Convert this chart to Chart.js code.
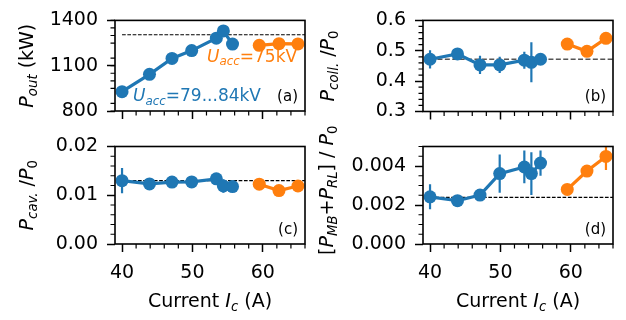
<!DOCTYPE html>
<html lang="en">
<head>
<meta charset="UTF-8">
<title>Power balance vs. current</title>
<style>
    body { margin: 0; background: #fff; }
    #wrap { position: relative; width: 626px; height: 320px; }
    #wrap canvas { position: absolute; left: 0; top: 0; }
</style>
</head>
<body>
<div id="wrap">
    <canvas id="chartA" width="626" height="320"></canvas>
    <canvas id="chartB" width="626" height="320"></canvas>
    <canvas id="chartC" width="626" height="320"></canvas>
    <canvas id="chartD" width="626" height="320"></canvas>
</div>

<script src="https://cdn.jsdelivr.net/npm/chart.js"></script>
<script>
// ---- data ----
const blueCurrent = [40, 43.9, 47.1, 49.9, 53.4, 54.4, 55.7];
const orangeCurrent = [59.5, 62.3, 65];

const poutBlue = [928, 1043, 1148, 1200, 1282, 1330, 1243];
const poutBlueErr = [8, 36, 8, 8, 8, 8, 8];
const poutOrange = [1235, 1246, 1244];
const poutOrangeErr = [8, 8, 8];
const poutRef = 1305;

const collBlue = [0.472, 0.4895, 0.4535, 0.4535, 0.469, 0.462, 0.472];
const collBlueErr = [0.03, 0.008, 0.03, 0.027, 0.028, 0.066, 0.01];
const collOrange = [0.522, 0.498, 0.541];
const collOrangeErr = [0.015, 0.008, 0.015];
const collRef = 0.472;

const cavBlue = [0.0130, 0.01233, 0.0127, 0.01274, 0.01336, 0.0119, 0.01178];
const cavBlueErr = [0.0026, 0.0003, 0.0003, 0.0003, 0.0003, 0.0014, 0.0003];
const cavOrange = [0.01227, 0.01096, 0.0119];
const cavOrangeErr = [0.0003, 0.0003, 0.0003];
const cavRef = 0.0130;

const lossBlue = [0.00242, 0.00222, 0.00251, 0.00361, 0.00395, 0.00361, 0.00415];
const lossBlueErr = [0.00064, 0.0001, 0.0001, 0.00098, 0.00084, 0.0011, 0.00065];
const lossOrange = [0.0028, 0.00374, 0.00449];
const lossOrangeErr = [0.0001, 0.0001, 0.0007];
const lossRef = 0.00239;

const xTicks = [40, 50, 60];

const BLUE = '#1f77b4';
const ORANGE = '#ff7f0e';
const FONT = "'DejaVu Sans', sans-serif";
const TICK_SIZE = 19;

// text with italic / subscript pieces, drawn at a baseline point
function drawRich(ctx, parts, x, y, size, color, align, angle) {
    ctx.save();
    ctx.translate(x, y);
    if (angle) ctx.rotate(angle);
    ctx.fillStyle = color;
    ctx.textBaseline = 'alphabetic';
    ctx.textAlign = 'left';
    const fontOf = p => (p.i ? 'italic ' : '') + (p.sub ? size * 0.7 : size) + 'px ' + FONT;
    let total = 0;
    parts.forEach(p => { ctx.font = fontOf(p); total += ctx.measureText(p.t).width; });
    let cx = align === 'center' ? -total / 2 : (align === 'right' ? -total : 0);
    parts.forEach(p => {
        ctx.font = fontOf(p);
        ctx.fillText(p.t, cx, p.sub ? size * 0.22 : 0);
        cx += ctx.measureText(p.t).width;
    });
    ctx.restore();
}

const xLabel = [{t: 'Current '}, {t: 'I', i: true}, {t: 'c', i: true, sub: true}, {t: ' (A)'}];

function panelPlugin(cfg) {
    return {
        id: 'panel',
        beforeDatasetsDraw(chart) {
            const ctx = chart.ctx, a = chart.chartArea;
            const xs = chart.scales.x, ys = chart.scales.y;
            ctx.save();
            ctx.beginPath();
            ctx.rect(a.left, a.top, a.width, a.height);
            ctx.clip();
            ctx.lineWidth = 2.2;
            cfg.errors.forEach(e => {
                ctx.strokeStyle = e.color;
                e.x.forEach((xv, i) => {
                    const px = xs.getPixelForValue(xv);
                    ctx.beginPath();
                    ctx.moveTo(px, ys.getPixelForValue(e.y[i] - e.err[i]));
                    ctx.lineTo(px, ys.getPixelForValue(e.y[i] + e.err[i]));
                    ctx.stroke();
                });
            });
            ctx.restore();
        },
        afterDraw(chart) {
            const ctx = chart.ctx, a = chart.chartArea;
            const xs = chart.scales.x, ys = chart.scales.y;
            ctx.save();
            // minor ticks (outward)
            ctx.strokeStyle = '#000';
            ctx.lineWidth = 1.2;
            const minor = (scale, step, major, draw) => {
                const n0 = Math.ceil(scale.min / step - 1e-6), n1 = Math.floor(scale.max / step + 1e-6);
                for (let n = n0; n <= n1; n++) {
                    const v = n * step;
                    const r = v / major;
                    if (Math.abs(r - Math.round(r)) < 1e-6) continue;
                    draw(scale.getPixelForValue(v));
                }
            };
            ctx.beginPath();
            minor(xs, cfg.xMinor, 10, p => { ctx.moveTo(p, a.bottom); ctx.lineTo(p, a.bottom + 4.5); });
            minor(ys, cfg.yMinor, cfg.yStep, p => { ctx.moveTo(a.left, p); ctx.lineTo(a.left - 4.5, p); });
            ctx.stroke();
            // frame
            ctx.lineWidth = 1.6;
            ctx.strokeRect(a.left, a.top, a.width, a.height);
            ctx.restore();

            drawRich(ctx, cfg.yLabel, cfg.yLabelX, (a.top + a.bottom) / 2 + cfg.yLabelShift, TICK_SIZE, '#000', 'center', -Math.PI / 2);
            if (cfg.showX) drawRich(ctx, xLabel, (a.left + a.right) / 2, 306.5, TICK_SIZE, '#000', 'center', 0);

            ctx.save();
            ctx.font = '15px ' + FONT;
            ctx.fillStyle = '#000';
            ctx.textAlign = 'right';
            ctx.textBaseline = 'middle';
            ctx.fillText(cfg.tag, a.right - 7, a.bottom - 14);
            ctx.restore();

            (cfg.notes || []).forEach(n => drawRich(ctx, n.parts, n.x, n.y, 17, n.color, 'left', 0));
        }
    };
}

function pairs(xs, ys) {
    return xs.map((x, i) => ({x: x, y: ys[i]}));
}

function makePanel(id, cfg) {
    const L = cfg.area[0], T = cfg.area[1], R = cfg.area[2], B = cfg.area[3];
    const YW = 100, XH = 60;
    const tickFont = {family: FONT, size: TICK_SIZE};
    new Chart(document.getElementById(id), {
        type: 'line',
        data: {
            datasets: [
                {data: pairs(blueCurrent, cfg.blue), borderColor: BLUE, backgroundColor: BLUE,
                 borderWidth: 3.2, pointRadius: 6.5, pointBorderWidth: 0, tension: 0},
                {data: pairs(orangeCurrent, cfg.orange), borderColor: ORANGE, backgroundColor: ORANGE,
                 borderWidth: 3.2, pointRadius: 6.5, pointBorderWidth: 0, tension: 0},
                {data: [{x: 40, y: cfg.ref}, {x: 66, y: cfg.ref}], borderColor: cfg.refColor,
                 borderWidth: cfg.refWidth, borderDash: cfg.refDash, pointRadius: 0}
            ]
        },
        options: {
            responsive: false,
            animation: false,
            events: [],
            layout: {padding: {left: L - YW, top: T, right: 626 - R, bottom: 320 - B - XH}},
            plugins: {legend: {display: false}, tooltip: {enabled: false}},
            scales: {
                x: {
                    type: 'linear', min: 39, max: 66,
                    afterFit: s => { s.height = XH; },
                    afterBuildTicks: s => { s.ticks = xTicks.map(v => ({value: v})); },
                    ticks: {display: cfg.showX, font: tickFont, color: '#000', padding: 10, maxRotation: 0},
                    grid: {drawOnChartArea: false, tickLength: 8, tickWidth: 1.5, tickColor: '#000'},
                    border: {display: false}
                },
                y: {
                    type: 'linear', min: cfg.yMin, max: cfg.yMax,
                    afterFit: s => { s.width = YW; },
                    afterBuildTicks: s => { s.ticks = cfg.yTicks.map(v => ({value: v})); },
                    ticks: {font: tickFont, color: '#000', padding: 9,
                            callback: v => v.toFixed(cfg.yDigits)},
                    grid: {drawOnChartArea: false, tickLength: 8, tickWidth: 1.5, tickColor: '#000'},
                    border: {display: false}
                }
            }
        },
        plugins: [panelPlugin(cfg)]
    });
}

const blackDash = [3.7, 1.6];

makePanel('chartA', {
    area: [115, 14, 305, 111],
    blue: poutBlue, orange: poutOrange, ref: poutRef,
    refColor: '#000', refWidth: 1.1, refDash: blackDash,
    errors: [{x: blueCurrent, y: poutBlue, err: poutBlueErr, color: BLUE},
             {x: orangeCurrent, y: poutOrange, err: poutOrangeErr, color: ORANGE}],
    yMin: 800, yMax: 1400, yTicks: [800, 1100, 1400], yStep: 300, yMinor: 50, yDigits: 0,
    xMinor: 2, showX: false, tag: '(a)',
    yLabel: [{t: 'P', i: true}, {t: 'out', i: true, sub: true}, {t: ' (kW)'}],
    yLabelX: 33, yLabelShift: 0,
    notes: [
        {parts: [{t: 'U', i: true}, {t: 'acc', i: true, sub: true}, {t: '=79...84kV'}], x: 133, y: 101, color: BLUE},
        {parts: [{t: 'U', i: true}, {t: 'acc', i: true, sub: true}, {t: '=75kV'}], x: 207, y: 61.5, color: ORANGE}
    ]
});

makePanel('chartB', {
    area: [423, 14, 613, 111.5],
    blue: collBlue, orange: collOrange, ref: collRef,
    refColor: '#555', refWidth: 1.5, refDash: [5, 2.4],
    errors: [{x: blueCurrent, y: collBlue, err: collBlueErr, color: BLUE},
             {x: orangeCurrent, y: collOrange, err: collOrangeErr, color: ORANGE}],
    yMin: 0.3, yMax: 0.6, yTicks: [0.3, 0.4, 0.5, 0.6], yStep: 0.1, yMinor: 0.02, yDigits: 1,
    xMinor: 2, showX: false, tag: '(b)',
    yLabel: [{t: 'P', i: true}, {t: 'coll.', i: true, sub: true}, {t: ' /'}, {t: 'P', i: true}, {t: '0', sub: true}],
    yLabelX: 334, yLabelShift: 0
});

makePanel('chartC', {
    area: [115, 146.5, 305, 244],
    blue: cavBlue, orange: cavOrange, ref: cavRef,
    refColor: '#000', refWidth: 1.1, refDash: blackDash,
    errors: [{x: blueCurrent, y: cavBlue, err: cavBlueErr, color: BLUE},
             {x: orangeCurrent, y: cavOrange, err: cavOrangeErr, color: ORANGE}],
    yMin: 0, yMax: 0.02, yTicks: [0, 0.01, 0.02], yStep: 0.01, yMinor: 0.002, yDigits: 2,
    xMinor: 2, showX: true, tag: '(c)',
    yLabel: [{t: 'P', i: true}, {t: 'cav.', i: true, sub: true}, {t: ' /'}, {t: 'P', i: true}, {t: '0', sub: true}],
    yLabelX: 33, yLabelShift: 0
});

makePanel('chartD', {
    area: [423, 146.5, 613, 244],
    blue: lossBlue, orange: lossOrange, ref: lossRef,
    refColor: '#000', refWidth: 1.1, refDash: blackDash,
    errors: [{x: blueCurrent, y: lossBlue, err: lossBlueErr, color: BLUE},
             {x: orangeCurrent, y: lossOrange, err: lossOrangeErr, color: ORANGE}],
    yMin: 0, yMax: 0.005, yTicks: [0, 0.002, 0.004], yStep: 0.002, yMinor: 0.0005, yDigits: 3,
    xMinor: 2, showX: true, tag: '(d)',
    yLabel: [{t: '['}, {t: 'P', i: true}, {t: 'MB', i: true, sub: true}, {t: '+'}, {t: 'P', i: true},
             {t: 'RL', i: true, sub: true}, {t: '] / '}, {t: 'P', i: true}, {t: '0', sub: true}],
    yLabelX: 333, yLabelShift: -5
});
</script>
</body>
</html>
